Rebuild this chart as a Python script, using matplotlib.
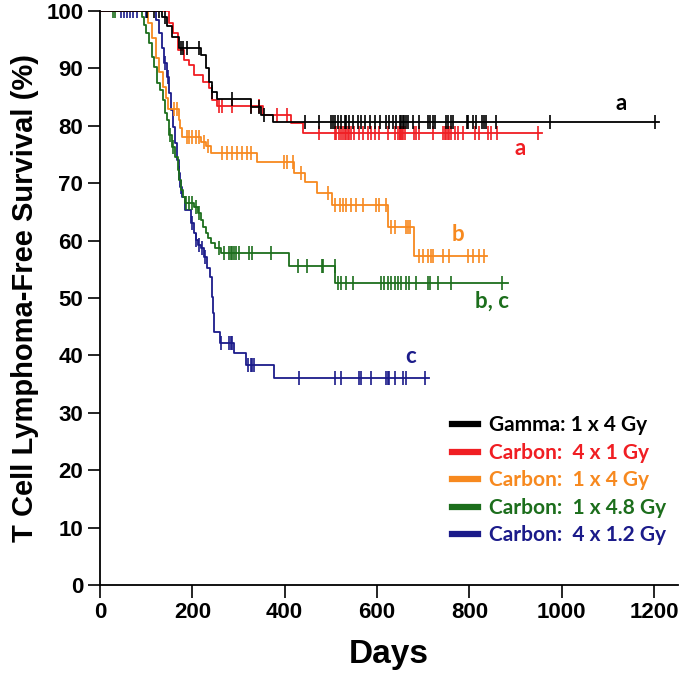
import numpy as np
import matplotlib
matplotlib.use("Agg")
import matplotlib.pyplot as plt

# ---------------- data ----------------
labels = ["Gamma: 1 x 4 Gy", "Carbon:  4 x 1 Gy", "Carbon:  1 x 4 Gy",
          "Carbon:  1 x 4.8 Gy", "Carbon:  4 x 1.2 Gy"]
colors = ["#000000", "#F01E23", "#F7891F", "#1C6E1C", "#1B1B8A"]

# event times (days) and survival (%) after each drop
gamma_t = [135, 145, 156, 171, 219, 230, 237, 243, 254, 328, 349, 375]
gamma_s = [99, 97.3, 95.5, 93.5, 92.4, 90, 87.6, 85.9, 84.7, 83.3, 81.9, 80.6]
gamma_end = 1210
gamma_c = [102, 118, 128, 140, 176, 180, 189, 215, 243, 286, 328, 345, 356,
           443, 475, 501, 504, 510, 515, 522, 530, 533, 540, 548, 558, 566,
           573, 584, 595, 606, 620, 627, 634, 642, 649, 652, 656, 659, 663,
           667, 678, 692, 710, 714, 721, 725, 750, 754, 761, 765, 794, 797,
           808, 815, 827, 831, 836, 857, 974, 1202]

c41_t = [150, 159, 170, 181, 192, 203, 224, 236, 243, 254, 352, 414, 440]
c41_s = [97.9, 96.2, 93.2, 91.5, 90.6, 88.9, 87.6, 86.6, 84.5, 83.4, 81.9,
         80.5, 78.8]
c41_end = 957
c41_c = [258, 265, 286, 328, 345, 384, 404, 474, 508, 511, 517, 522, 526,
         530, 533, 537, 540, 544, 551, 562, 569, 580, 587, 595, 605, 623,
         638, 645, 649, 650, 653, 655, 656, 660, 681, 685, 692, 721, 743,
         747, 750, 754, 757, 761, 768, 775, 786, 812, 822, 840, 846, 860, 949]

c14_t = [104, 113, 121, 128, 137, 143, 148, 171, 174, 178, 219, 230, 241,
         341, 421, 443, 469, 503, 623, 681]
c14_s = [97.9, 95.3, 91.8, 89.4, 86.8, 84.8, 83.0, 81.0, 79.6, 78.0, 77.2,
         76.4, 75.3, 73.7, 71.8, 70.2, 68.3, 66.2, 62.4, 57.3]
c14_end = 838
c14_c = [160, 166, 189, 193, 200, 208, 215, 226, 235, 265, 276, 286, 297,
         308, 319, 328, 399, 406, 417, 436, 493, 508, 519, 526, 533, 544,
         555, 569, 598, 605, 620, 631, 638, 663, 667, 671, 692, 700, 710,
         718, 721, 743, 757, 797, 808, 822, 832]

c148_t = [92, 96, 100, 106, 113, 118, 124, 130, 136, 141, 146, 150, 156,
          163, 168, 172, 176, 180, 184, 204, 212, 218, 224, 230, 235, 241,
          250, 262, 410, 510]
c148_s = [99, 97.6, 96.2, 94.4, 92.0, 90.2, 87.5, 86.2, 84.5, 82.2, 81.0,
          78.4, 76.3, 74.6, 72.3, 70.6, 68.8, 67.6, 66.5, 65.9, 64.8, 63.6,
          62.4, 61.3, 60.4, 59.6, 58.7, 57.8, 55.6, 52.6]
c148_end = 883
c148_c = [28, 33, 152, 158, 186, 193, 200, 207, 215, 258, 269, 280, 284,
          287, 291, 294, 302, 323, 330, 370, 428, 449, 480, 482, 508, 515,
          522, 533, 548, 609, 616, 623, 631, 638, 645, 652, 663, 670, 685,
          710, 714, 732, 761, 870]

c412_t = [122, 128, 135, 139, 145, 150, 154, 158, 163, 167, 171, 174, 178,
          184, 197, 204, 208, 213, 219, 226, 232, 239, 243, 245, 247, 260,
          291, 317, 377]
c412_s = [98.4, 96.2, 93.5, 90.9, 88.5, 85.7, 82.8, 79.8, 77.0, 74.0, 71.8,
          69.3, 67.6, 65.3, 63.1, 61.3, 60.1, 59.2, 58.7, 57.1, 55.2, 53.7,
          50.2, 47.4, 44.1, 42.2, 40.4, 38.3, 36.1]
c412_end = 712
c412_c = [45, 52, 58, 65, 72, 80, 100, 141, 147, 172, 176, 200, 208, 215,
          221, 228, 262, 280, 284, 287, 320, 327, 330, 334, 432, 508, 522,
          562, 566, 587, 620, 623, 627, 638, 656, 663, 703]

groups = [
    (gamma_t, gamma_s, gamma_end, gamma_c),
    (c41_t, c41_s, c41_end, c41_c),
    (c14_t, c14_s, c14_end, c14_c),
    (c148_t, c148_s, c148_end, c148_c),
    (c412_t, c412_s, c412_end, c412_c),
]

annot_text = ["a", "a", "b", "b, c", "c"]
annot_x = [1128, 909, 775, 850, 673]
annot_y = [83.8, 76.0, 61.0, 49.5, 39.8]

xticks = [0, 200, 400, 600, 800, 1000, 1200]
yticks = list(range(0, 101, 10))

# ---------------- figure ----------------
fig = plt.figure(figsize=(6.8, 6.83), dpi=100)
ax = fig.add_axes([100 / 680, 1 - 585 / 683, 578 / 680, 574 / 683])

arial = ["Liberation Sans", "DejaVu Sans"]
calib = ["Lato", "DejaVu Sans"]

for i in reversed(range(len(groups))):
    t, s, end, cens = groups[i]
    tt = np.concatenate([[0], t, [end]])
    ss = np.concatenate([[100], s, [s[-1]]])
    ax.plot(tt, ss, drawstyle="steps-post", color=colors[i], lw=1.3,
            zorder=10 - i)
    c = np.asarray(cens, dtype=float)
    idx = np.searchsorted(np.asarray(tt), c, side="right") - 1
    cy = ss[idx]
    ax.plot(c, cy, linestyle="none", marker="|", markersize=10,
            markeredgewidth=1.2, color=colors[i], zorder=10 - i)

for i in range(len(groups)):
    ax.text(annot_x[i], annot_y[i], annot_text[i], color=colors[i],
            fontsize=16, fontweight="bold", family=calib,
            ha="center", va="center")

ax.set_xlim(0, 1252)
ax.set_ylim(0, 100)
ax.set_xticks(xticks)
ax.set_yticks(yticks)
for sp in ["top", "right"]:
    ax.spines[sp].set_visible(False)
for sp in ["left", "bottom"]:
    ax.spines[sp].set_linewidth(1.3)
ax.tick_params(direction="out", length=9, width=1.2, pad=3)
for lab in ax.get_xticklabels() + ax.get_yticklabels():
    lab.set_fontfamily(arial)
    lab.set_fontweight("bold")
    lab.set_fontsize(16)

ax.set_xlabel("Days", fontsize=24, fontweight="bold", family=arial,
              labelpad=12)
ax.set_ylabel("T Cell Lymphoma-Free Survival (%)", fontsize=21,
              fontweight="bold", family=arial, labelpad=5)

leg_handles = []
for i in range(len(groups)):
    lh, = ax.plot([], [], color=colors[i], lw=4.5)
    leg_handles.append(lh)
leg = ax.legend(leg_handles, labels, loc="upper left",
                bbox_to_anchor=(0.595, 0.31), frameon=False,
                prop={"family": calib, "weight": "bold", "size": 15},
                handlelength=1.25, handletextpad=0.5, labelspacing=0.36,
                borderaxespad=0)
for txt, col in zip(leg.get_texts(), colors):
    txt.set_color(col)

fig.savefig("out.png", dpi=100)
